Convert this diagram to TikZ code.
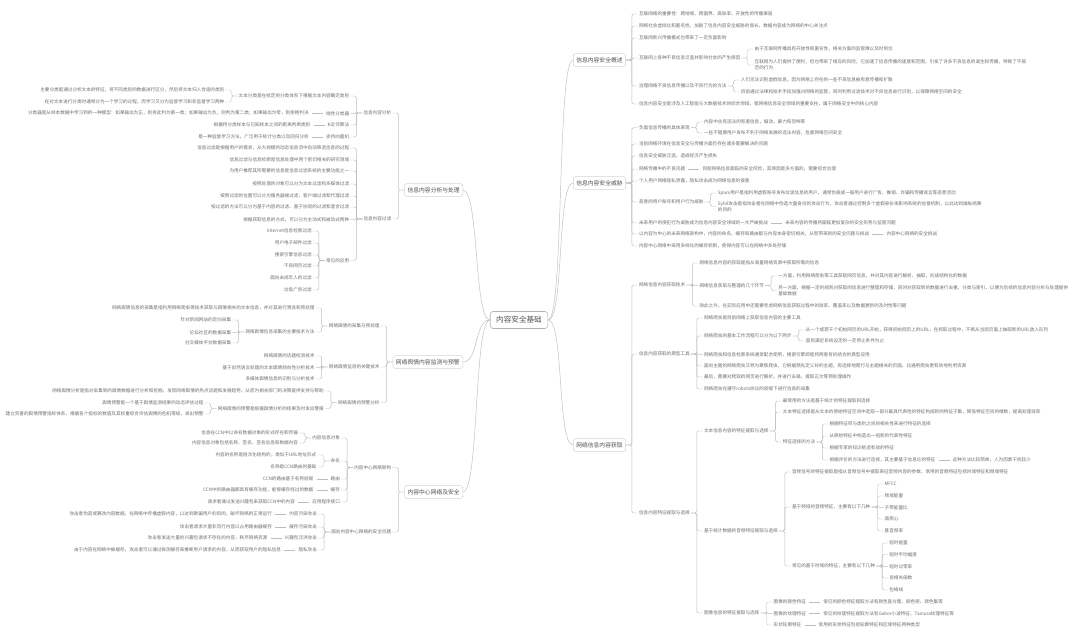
\documentclass[tikz,border=0pt]{standalone}
\usepackage{fontspec}
\setmainfont{Noto Sans CJK SC}
\definecolor{txt}{HTML}{6E6E6E}
\definecolor{mtxt}{HTML}{505050}
\definecolor{ln}{HTML}{BDBDBD}
\definecolor{bx}{HTML}{D4D4D4}
\newcommand\fleaf{\fontsize{4.6pt}{6.2pt}\selectfont}
\newcommand\fmain{\fontsize{5.8pt}{7pt}\selectfont}
\newcommand\froot{\fontsize{7.6pt}{9pt}\selectfont}
\tikzset{
 leaf/.style={font=\fleaf, text=txt, inner xsep=1pt, inner ysep=0.8pt, align=left},
 conn/.style={draw=ln, line width=0.45pt, rounded corners=1.6pt},
 mainbox/.style={draw=bx, fill=white, rounded corners=2.2pt, font=\fmain, text=mtxt, inner xsep=3pt, inner ysep=3.6pt, line width=0.5pt},
 rootbox/.style={draw=bx!85!black, fill=white, rounded corners=3pt, font=\froot, text=mtxt, inner xsep=6pt, inner ysep=5pt, line width=0.6pt},
}
\newcommand\mmR[4]{\path (#1.east) ++(12,0) coordinate (t);
 \node[leaf,anchor=west] (#2) at (t |- 0,#3) {#4};
 \draw[conn] (#1.east) -- ++(6,0) |- (#2.west);}
\newcommand\mmRs[3]{\path (#1.east) ++(15,0) coordinate (t);
 \node[leaf,anchor=west] (#2) at (t) {#3};
 \draw[conn] ([xshift=2pt]#1.east) -- ([xshift=-2pt]#2.west);}
\newcommand\mmL[4]{\path (#1.west) ++(-12,0) coordinate (t);
 \node[leaf,anchor=east] (#2) at (t |- 0,#3) {#4};
 \draw[conn] (#1.west) -- ++(-6,0) |- (#2.east);}
\newcommand\mmLs[3]{\path (#1.west) ++(-15,0) coordinate (t);
 \node[leaf,anchor=east] (#2) at (t) {#3};
 \draw[conn] ([xshift=-2pt]#1.west) -- ([xshift=2pt]#2.east);}
\begin{document}
\begin{tikzpicture}[x=1pt,y=-1pt]
\fill[white] (0,0) rectangle (1080,640);
\useasboundingbox (0,0) rectangle (1080,640);
\node[rootbox] (root) at (519,320) {内容安全基础};
\node[mainbox,anchor=west] (r1) at (573,60) {信息内容安全概述};
\node[mainbox,anchor=west] (r2) at (573,183) {信息内容安全威胁};
\node[mainbox,anchor=west] (r3) at (573,445) {网络信息内容获取};
\node[mainbox,anchor=east] (l1) at (463,190) {信息内容分析与处理};
\node[mainbox,anchor=east] (l2) at (463,362) {网络舆情内容监测与预警};
\node[mainbox,anchor=east] (l3) at (463,492) {内容中心网络及安全};
\foreach \m in {r1,r2,r3}{\draw[conn] (root.east) .. controls +(16,0) and +(-16,0) .. (\m.west);}
\foreach \m in {l1,l2,l3}{\draw[conn] (root.west) .. controls +(-16,0) and +(16,0) .. (\m.east);}
% ---------- R1
\mmR{r1}{a1}{14}{互联网络的重要性：跨地域、跨国界、高效率、开放性的传播渠道}
\mmR{r1}{a2}{26}{网络社会虚拟化和匿名性，加剧了信息内容安全威胁的增长，数据内容成为网络的中心关注点}
\mmR{r1}{a3}{38}{互联网新兴传播模式也带来了一定负面影响}
\mmR{r1}{a4}{58}{互联网上各种不良信息泛滥并影响社会的产生原因}
\mmR{a4}{a41}{49}{由于互联网传播具有开放性和匿名性，相关方面的监管难以及时到位}
\mmR{a4}{a42}{65}{互联网为人们提供了便利，但也带来了相应的风险，它加速了信息传播的速度和范围，引发了许多不良信息的滋生和传播，导致了不规\\范的行为}
\mmR{r1}{a5}{86}{治理网络不良信息传播以及不良行为的方法}
\mmR{a5}{a51}{80}{人们无法识别虚假信息，因为网络上存在的一些不良信息被有意传播和扩散}
\mmR{a5}{a52}{92}{目前通过法律和技术手段加强对网络的监管，同时利用过滤技术对不良信息进行识别，以保障网络空间的安全}
\mmR{r1}{a6}{104}{信息内容安全是涉及人工智能与大数据技术的综合领域，是网络信息安全领域的重要支柱，属于网络安全中的核心内容}
% ---------- R2
\mmR{r2}{b1}{127.5}{负面信息传播的具体表现}
\mmR{b1}{b11}{122}{内容中含有违法的有害信息，煽动、暴力和恐怖等}
\mmR{b1}{b12}{133}{一些不健康用户发布不利于网络发展的违法内容，危害网络空间安全}
\mmR{r2}{b2}{144}{当前网络环境在信息安全与传播方面仍存在诸多需要解决的问题}
\mmR{r2}{b3}{156}{信息安全威胁泛滥，造成经济产生损失}
\mmR{r2}{b4}{169}{网络传播中的不良问题}
\mmRs{b4}{b41}{目前网络信息面临的安全风险，其原因是多方面的，需要综合治理}
\mmR{r2}{b5}{181}{个人用户网络隐私泄露，隐私攻击成为网络信息的侵害}
\mmR{r2}{b6}{202}{恶意的用户账号和用户行为威胁}
\mmR{b6}{b61}{193}{Spam用户是指利用虚假账号发布垃圾信息的用户，通常伪装成一般用户进行广告、推销、诈骗和传播谣言等恶意活动}
\mmR{b6}{b62}{206.5}{Sybil攻击是指攻击者在网络中伪造大量身份的攻击行为，攻击者通过控制多个虚假身份来影响系统的信誉机制，以此达到操纵结果\\的目的}
\mmR{r2}{b7}{223}{未来用户的侵犯行为威胁成为信息内容安全领域的一大严峻挑战}
\mmRs{b7}{b71}{未来内容的传播将面临更加复杂的安全形势与监管问题}
\mmR{r2}{b8}{234}{以内容为中心的未来网络架构中，内容的命名、缓存和路由都与内容本身密切相关，从而带来新的安全问题与挑战}
\mmRs{b8}{b81}{内容中心网络的安全挑战}
\mmR{r2}{b9}{246}{内容中心网络中采用多样化的缓存机制，使得内容可以在网络中多处存储}
% ---------- R3
\mmR{r3}{c1}{285}{网络信息内容获取技术}
\mmR{c1}{c11}{263}{网络信息内容的获取是指从海量网络资源中获取所需的信息}
\mmR{c1}{c12}{285.6}{网络信息获取与整理的几个环节}
\mmR{c12}{c121}{276}{一方面，利用网络爬虫等工具获取网页信息，并对其内容进行解析、抽取，形成结构化的数据}
\mmR{c12}{c122}{290.5}{另一方面，根据一定的规则对获取的信息进行整理和存储，同时对获取到的数据进行去重、分类与索引，以便为后续的信息内容分析与处理提供\\基础数据}
\mmR{c1}{c13}{306}{除此之外，在实际应用中还需要考虑网络信息获取过程中的效率、覆盖率以及数据更新的及时性等问题}
\mmR{r3}{c2}{354}{信息内容获取的典型工具}
\mmR{c2}{c21}{318}{网络爬虫是目前网络上获取信息内容的主要工具}
\mmR{c2}{c22}{336}{网络爬虫的基本工作流程可以分为以下两步}
\mmR{c22}{c221}{330}{从一个或若干个初始网页的URL开始，获得初始网页上的URL，在抓取过程中，不断从当前页面上抽取新的URL放入队列}
\mmR{c22}{c222}{341}{直到满足系统设定的一定停止条件为止}
\mmR{c2}{c23}{354.4}{网络爬虫和信息检索系统通常配合使用，搜索引擎即是将两者有机结合的典型应用}
\mmR{c2}{c24}{366}{面向主题的网络爬虫又称为聚焦爬虫，它根据预先定义好的主题，有选择地爬行与主题相关的页面，比通用爬虫更有效地利用资源}
\mmR{c2}{c25}{377}{最后，需要对爬取的网页进行解析，并进行去噪、提取正文等预处理操作}
\mmR{c2}{c26}{389}{网络爬虫在遵守robots协议的前提下进行信息的采集}
\mmR{r3}{c3}{513}{信息内容特征提取与选择}
\mmR{c3}{c31}{431}{文本信息内容的特征提取与选择}
\mmR{c31}{c311}{401}{最常用的方法是基于统计的特征提取和选择}
\mmR{c31}{c312}{412}{文本特征选择是从文本的原始特征空间中选取一部分最具代表性的特征构成新的特征子集，降低特征空间的维数，提高处理效率}
\mmR{c31}{c313}{442}{特征选择的方法}
\mmR{c313}{m1}{424}{根据特征项与类别之间的相关性来进行特征的选择}
\mmR{c313}{m2}{436}{从原始特征中构造出一组新的代表性特征}
\mmR{c313}{m3}{448}{根据专家的知识挑选有效的特征}
\mmR{c313}{m4}{460}{根据评价的方法进行选择，其主要基于信息论的特征}
\mmRs{m4}{m41}{这种方法比较简单，人为因素干扰较少}
\mmR{c3}{c32}{531}{基于统计数据的音频特征提取与选择}
\mmR{c32}{c321}{472}{音频信号的特征提取是指从音频信号中提取表征音频内容的参数，常用的音频特征包括时域特征和频域特征}
\mmR{c32}{c322}{507}{基于频域的音频特征，主要有以下几种}
\mmR{c322}{f1}{484}{MFCC}
\mmR{c322}{f2}{496}{频域能量}
\mmR{c322}{f3}{507.4}{子带能量比}
\mmR{c322}{f4}{519}{谱质心}
\mmR{c322}{f5}{531}{基音频率}
\mmR{c32}{c323}{566}{常见的基于时域的特征，主要有以下几种}
\mmR{c323}{t1}{543}{短时能量}
\mmR{c323}{t2}{554.5}{短时平均幅度}
\mmR{c323}{t3}{566.4}{短时过零率}
\mmR{c323}{t4}{578}{自相关函数}
\mmR{c323}{t5}{590}{包络线}
\mmR{c3}{c33}{613}{图像信息的特征提取与选择}
\mmR{c33}{g1}{602}{图像的颜色特征}
\mmRs{g1}{g11}{常见的颜色特征提取方法有颜色直方图、颜色矩、颜色集等}
\mmR{c33}{g2}{613.4}{图像的纹理特征}
\mmRs{g2}{g21}{常见的纹理特征提取方法有Gabor小波特征、Tamura纹理特征等}
\mmR{c33}{g3}{625}{形状轮廓特征}
\mmRs{g3}{g31}{常用的形状特征包括轮廓特征和区域特征两种类型}
% ---------- L1
\mmL{l1}{d1}{113}{信息内容分析}
\mmL{d1}{d11}{96}{文本分类是在给定的分类体系下根据文本内容确定类别}
\mmL{d11}{d111}{90}{主要分类是通过分析文本的特征，将不同类别的数据进行区分，然后将文本归入合适的类别}
\mmL{d11}{d112}{102}{在对文本进行分类时通常分为一个学习的过程，而学习又分为监督学习和非监督学习两种}
\mmL{d1}{d12}{113.4}{线性分类器}
\mmLs{d12}{d121}{分类器是从样本数据中学习到的一种模型：如果输出为正，则将此判为第一类；如果输出为负，则判为第二类；如果输出为零，则拒绝判决}
\mmL{d1}{d13}{125}{K近邻算法}
\mmLs{d13}{d131}{根据待分类样本与已知样本之间的距离判断类别}
\mmL{d1}{d14}{137}{支持向量机}
\mmLs{d14}{d141}{是一种监督学习方法，广泛用于统计分类以及回归分析}
\mmL{l1}{d2}{219}{信息内容过滤}
\mmL{d2}{e1}{148}{信息过滤是根据用户的需求，从大规模的动态信息流中自动筛选信息的过程}
\mmL{d2}{e2}{160}{信息过滤与信息检索是信息处理中两个密切相关的研究领域}
\mmL{d2}{e3}{171}{为用户推荐其所需要的信息是信息过滤系统的主要功能之一}
\mmL{d2}{e4}{184}{按照处理的对象可以分为文本过滤和多媒体过滤}
\mmL{d2}{e5}{196}{按照过滤的位置可以分为服务器端过滤、客户端过滤和代理过滤}
\mmL{d2}{e6}{207}{按过滤的方法可以分为基于内容的过滤、基于协同的过滤和混合过滤}
\mmL{d2}{e7}{219.4}{根据获取信息的方式，可以分为主动式和被动式两种}
\mmL{d2}{e8}{260.5}{常见的应用}
\mmL{e8}{e81}{231}{Internet信息检索过滤}
\mmL{e8}{e82}{243}{用户电子邮件过滤}
\mmL{e8}{e83}{255}{搜索引擎信息过滤}
\mmL{e8}{e84}{266}{不良网页过滤}
\mmL{e8}{e85}{278}{面向未成年人的过滤}
\mmL{e8}{e86}{290}{垃圾广告过滤}
% ---------- L2
\mmL{l2}{h1}{326}{网络舆情的采集与预处理}
\mmL{h1}{h11}{308}{网络舆情信息的采集是指利用网络爬虫等技术获取与舆情相关的文本信息，并对其进行清洗和预处理}
\mmL{h1}{h12}{332}{网络舆情信息采集的主要技术方法}
\mmL{h12}{h121}{320}{针对新闻网站的定向采集}
\mmL{h12}{h122}{332.4}{论坛社区的数据采集}
\mmL{h12}{h123}{343}{社交媒体平台数据采集}
\mmL{l2}{h2}{367}{网络舆情监测的关键技术}
\mmL{h2}{h21}{356}{网络舆情的话题检测技术}
\mmL{h2}{h22}{367.4}{基于自然语言处理的文本舆情倾向性分析技术}
\mmL{h2}{h23}{379}{多媒体舆情信息的识别与分析技术}
\mmL{l2}{h3}{402.5}{网络舆情的预警分析}
\mmL{h3}{h31}{391}{网络舆情分析是指对采集到的舆情数据进行分析和挖掘，发现网络舆情的热点话题和发展趋势，从而为相关部门的决策提供支持与帮助}
\mmL{h3}{h32}{408.5}{网络舆情的预警是根据舆情分析的结果及时发出警报}
\mmL{h32}{h321}{403}{舆情预警是一个基于舆情监测结果的动态评估过程}
\mmL{h32}{h322}{414}{建立完善的舆情预警指标体系，根据各个指标的数值及其权重综合评估舆情的危机等级，发出预警}
% ---------- L3
\mmL{l3}{k1}{467.5}{内容中心网络架构}
\mmL{k1}{k11}{438}{内容信息对象}
\mmL{k11}{k111}{433}{信息在CCN中以命名数据对象的形式存在和传输}
\mmL{k11}{k112}{443}{内容信息对象包括名称、签名、签名信息和数据内容}
\mmL{k1}{k12}{461}{命名}
\mmL{k12}{k121}{455}{内容的名称是层次化结构的，类似于URL地址形式}
\mmL{k12}{k122}{467}{名称是CCN路由的基础}
\mmL{k1}{k13}{479}{路由}
\mmLs{k13}{k131}{CCN的路由基于名称前缀}
\mmL{k1}{k14}{490}{缓存}
\mmLs{k14}{k141}{CCN中的路由器都具有缓存功能，能够缓存经过的数据}
\mmL{k1}{k15}{502}{应用程序接口}
\mmLs{k15}{k151}{请求者通过发送兴趣包来获取CCN中的内容}
\mmL{l3}{k2}{532}{面向内容中心网络的安全问题}
\mmL{k2}{k21}{514}{内容污染攻击}
\mmLs{k21}{k211}{攻击者伪造或篡改内容数据，在网络中传播虚假内容，以达到欺骗用户的目的，破坏网络的正常运行}
\mmL{k2}{k22}{527}{缓存污染攻击}
\mmLs{k22}{k221}{攻击者请求大量非流行内容以占用路由器缓存}
\mmL{k2}{k23}{538}{兴趣包泛洪攻击}
\mmLs{k23}{k231}{攻击者发送大量的兴趣包请求不存在的内容，耗尽网络资源}
\mmL{k2}{k24}{550}{隐私攻击}
\mmLs{k24}{k241}{由于内容在网络中被缓存，攻击者可以通过探测缓存来推断用户请求的内容，从而获取用户的隐私信息}
\end{tikzpicture}
\end{document}
